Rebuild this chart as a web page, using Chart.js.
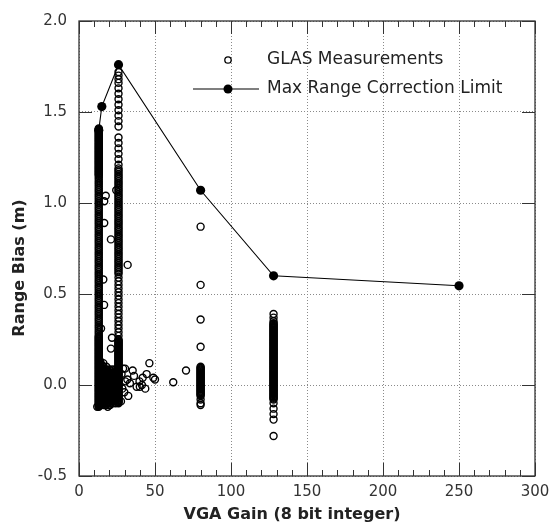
<!DOCTYPE html>
<html>
<head>
<meta charset="utf-8">
<title>GLAS range bias vs VGA gain</title>
<script src="https://cdn.jsdelivr.net/npm/chart.js@4.4.1/dist/chart.umd.min.js"></script>
<style>
  html, body { margin: 0; padding: 0; background: #fff; }
  #wrap { width: 557px; height: 529px; }
</style>
</head>
<body>
<div id="wrap"><canvas id="chart" width="557" height="529"></canvas></div>
<script>
/* ---- data ---- */

const xTicks = [0, 50, 100, 150, 200, 250, 300];
const yTicks = [-0.5, 0.0, 0.5, 1.0, 1.5, 2.0];

// max range correction limit (filled dots joined by a line)
const limitX = [13, 15, 26, 80, 128, 250];
const limitY = [1.40, 1.53, 1.76, 1.07, 0.60, 0.545];

// dense measurement column at gain 13
const colA_x = 13;
const colA_y = [1.41,1.40,1.39,1.38,1.37,1.36,1.35,1.34,1.33,1.32,1.31,1.30,1.29,1.28,1.27,1.26,1.25,1.24,1.23,1.22,1.21,1.20,1.19,1.18,1.17,1.16,1.15,
  1.405,1.395,1.385,1.375,1.365,1.355,1.345,1.335,1.325,1.315,1.305,1.295,1.285,1.275,1.265,1.255,1.245,1.235,1.225,1.215,1.205,1.195,1.185,1.175,1.165,1.155,
  1.13,1.11,1.09,1.07,1.05,1.03,1.01,0.99,0.97,0.95,0.93,0.91,0.89,0.87,0.85,0.83,0.81,0.79,0.77,0.75,0.73,0.71,0.69,0.67,0.65,0.63,0.61,0.59,0.57,0.55,0.53,0.51,0.49,0.47,0.45,0.43,0.41,0.39,0.37,0.35,0.33,0.31,0.29,
  1.14,1.12,1.10,1.08,1.06,1.04,1.02,1.00,0.98,0.96,0.94,0.92,0.90,0.88,0.86,0.84,0.82,0.80,0.78,0.76,0.74,0.72,0.70,0.68,0.66,0.64,0.62,0.60,0.58,0.56,0.54,0.52,0.50,0.48,0.46,0.44,0.42,0.40,0.38,0.36,0.34,0.32,0.30,0.28,
  0.27,0.26,0.25,0.24,0.23,0.22,0.21,0.20,0.19,0.18,0.17,0.16,0.15,0.14,0.13,0.12,0.11,0.10,0.09,0.08,0.07,0.06,0.05,0.04,0.03,0.02,0.01,0.00,-0.01,-0.02,-0.03,-0.04,-0.05,-0.06,-0.07,-0.08,-0.09,-0.10,-0.11,-0.12,
  0.265,0.255,0.245,0.235,0.225,0.215,0.205,0.195,0.185,0.175,0.165,0.155,0.145,0.135,0.125,0.115,0.105,0.095,0.085,0.075,0.065,0.055,0.045,0.035,0.025,0.015,0.005,-0.005,-0.015,-0.025,-0.035,-0.045,-0.055,-0.065,-0.075,-0.085,-0.095,-0.105,-0.115];

// dense measurement column at gain 26
const colB_x = 26;
const colB_y = [1.72,1.70,1.68,1.66,1.63,1.60,1.57,1.54,1.51,1.48,1.45,1.42,1.36,1.33,1.30,1.27,1.24,1.21,
  1.19,1.17,1.15,1.13,1.11,1.09,1.07,1.05,1.03,1.01,0.99,0.97,0.95,0.93,0.91,0.89,0.87,0.85,0.83,0.81,0.79,0.77,0.75,0.73,0.71,0.69,0.67,0.65,0.63,0.61,
  1.18,1.16,1.14,1.12,1.10,1.08,1.06,1.04,1.02,1.00,0.98,0.96,0.94,0.92,0.90,0.88,0.86,0.84,0.82,0.80,0.78,0.76,0.74,0.72,0.70,0.68,0.66,0.64,0.62,
  0.59,0.57,0.55,0.53,0.51,0.49,0.47,0.45,0.43,0.41,0.39,0.37,0.35,0.33,0.31,0.29,0.27,
  0.25,0.24,0.23,0.22,0.21,0.20,0.19,0.18,0.17,0.16,0.15,0.14,0.13,0.12,0.11,0.10,0.09,0.08,0.07,0.06,0.05,0.04,0.03,0.02,0.01,0.00,-0.01,-0.02,-0.03,-0.04,-0.05,-0.06,-0.07,-0.08,-0.09,-0.10,
  0.245,0.235,0.225,0.215,0.205,0.195,0.185,0.175,0.165,0.155,0.145,0.135,0.125,0.115,0.105,0.095,0.085,0.075,0.065,0.055,0.045,0.035,0.025,0.015,0.005,-0.005,-0.015,-0.025,-0.035,-0.045,-0.055,-0.065,-0.075,-0.085,-0.095];

// the block of measurements between gains 14 and 25, near zero bias
const clusterX = [14, 15, 16, 17, 18, 19, 20, 21, 22, 23, 24, 25];
const clusterY = [
  [-0.11,-0.095,-0.08,-0.065,-0.05,-0.035,-0.02,-0.005,0.01,0.025,0.04,0.055,0.07,0.085,0.10,0.115,0.13],
  [-0.10,-0.085,-0.07,-0.055,-0.04,-0.025,-0.01,0.005,0.02,0.035,0.05,0.065,0.08,0.095,0.11],
  [-0.11,-0.095,-0.08,-0.065,-0.05,-0.035,-0.02,-0.005,0.01,0.025,0.04,0.055,0.07,0.085,0.10,0.12],
  [-0.10,-0.085,-0.07,-0.055,-0.04,-0.025,-0.01,0.005,0.02,0.035,0.05,0.065,0.08],
  [-0.11,-0.095,-0.08,-0.065,-0.05,-0.035,-0.02,-0.005,0.01,0.025,0.04,0.055,0.07,0.085,0.10],
  [-0.10,-0.085,-0.07,-0.055,-0.04,-0.025,-0.01,0.005,0.02,0.035,0.05,0.065,0.08],
  [-0.11,-0.095,-0.08,-0.065,-0.05,-0.035,-0.02,-0.005,0.01,0.025,0.04,0.055,0.07,0.085],
  [-0.10,-0.085,-0.07,-0.055,-0.04,-0.025,-0.01,0.005,0.02,0.035,0.05,0.065,0.08],
  [-0.10,-0.085,-0.07,-0.055,-0.04,-0.025,-0.01,0.005,0.02,0.035,0.05,0.065,0.085],
  [-0.09,-0.075,-0.06,-0.045,-0.03,-0.015,0.00,0.015,0.03,0.045,0.065],
  [-0.10,-0.085,-0.07,-0.055,-0.04,-0.025,-0.01,0.005,0.02,0.035,0.05,0.065,0.085],
  [-0.09,-0.075,-0.06,-0.045,-0.03,-0.015,0.00,0.015,0.03,0.045,0.06,0.08]
];

// columns at gains 80 and 128
const col80_x = 80;
const col80_y = [0.87,0.55,0.36,0.21,0.10,0.09,0.08,0.07,0.06,0.05,0.04,0.03,0.02,0.01,0.00,-0.01,-0.02,-0.03,-0.04,-0.05,-0.06,-0.08,-0.10,-0.11,
  0.095,0.085,0.075,0.065,0.055,0.045,0.035,0.025,0.015,0.005,-0.005,-0.015,-0.025,-0.035,-0.045,-0.055];
const col128_x = 128;
const col128_y = [0.39,0.37,0.35,0.34,0.33,0.32,0.31,0.30,0.29,0.28,0.27,0.26,0.25,0.24,0.23,0.22,0.21,0.20,0.19,0.18,0.17,0.16,0.15,0.14,0.13,0.12,0.11,0.10,0.09,0.08,0.07,0.06,0.05,0.04,0.03,0.02,0.01,0.00,
  -0.01,-0.02,-0.03,-0.04,-0.05,-0.06,-0.07,-0.08,-0.10,-0.13,-0.16,-0.19,-0.28,
  0.335,0.325,0.315,0.305,0.295,0.285,0.275,0.265,0.255,0.245,0.235,0.225,0.215,0.205,0.195,0.185,0.175,0.165,0.155,0.145,0.135,0.125,0.115,0.105,0.095,0.085,0.075,0.065,0.055,0.045,0.035,0.025,0.015,0.005,
  -0.005,-0.015,-0.025,-0.035,-0.045,-0.055,-0.065,-0.075];

// loose measurements
const strayX = [16.5,16,14.5,21.7,21,32,17.6,16.6,16.6,21,24.5,12,18.9,20.4,
  27.6,28,28.5,29,29.8,30.3,30.5,31.8,32.4,33.5,35.3,36.2,37.9,39.8,40,41.4,41.9,43.6,44.5,46.3,48.9,50,62,70.4];
const strayY = [0.44,0.58,0.31,0.26,0.20,0.66,1.04,1.01,0.89,0.80,1.07,-0.12,-0.12,-0.11,
  -0.09,0.06,-0.02,0.09,-0.04,0.09,0.02,0.03,-0.06,0.01,0.08,0.05,-0.01,0.02,-0.01,0.00,0.04,-0.02,0.06,0.12,0.04,0.03,0.015,0.08];

/* ---- build point lists ---- */
const glasPoints = [];
colA_y.forEach(y => glasPoints.push({ x: colA_x, y }));
colB_y.forEach(y => glasPoints.push({ x: colB_x, y }));
clusterX.forEach((x, i) => clusterY[i].forEach(y => glasPoints.push({ x, y })));
col80_y.forEach(y => glasPoints.push({ x: col80_x, y }));
col128_y.forEach(y => glasPoints.push({ x: col128_x, y }));
strayX.forEach((x, i) => glasPoints.push({ x, y: strayY[i] }));
const limitPoints = limitX.map((x, i) => ({ x, y: limitY[i] }));

const FONT = "'DejaVu Sans', sans-serif";
const INK = "#222";
const AXIS = "#333";

// frame with inward ticks on all four sides
const framePlugin = {
  id: "frame",
  afterDatasetsDraw(chart) {
    const { ctx, chartArea: a, scales: { x, y } } = chart;
    ctx.save();
    ctx.strokeStyle = AXIS;
    ctx.lineWidth = 1.3;
    ctx.strokeRect(a.left, a.top, a.right - a.left, a.bottom - a.top);
    ctx.lineWidth = 1;
    ctx.beginPath();
    for (let v = 0; v <= 300; v += 10) {
      const px = Math.round(x.getPixelForValue(v)) + 0.5;
      const len = v % 50 === 0 ? 13 : 6;
      ctx.moveTo(px, a.bottom); ctx.lineTo(px, a.bottom - len);
      ctx.moveTo(px, a.top); ctx.lineTo(px, a.top + len);
    }
    yTicks.forEach(v => {
      const py = Math.round(y.getPixelForValue(v)) + 0.5;
      ctx.moveTo(a.left, py); ctx.lineTo(a.left + 13, py);
      ctx.moveTo(a.right, py); ctx.lineTo(a.right - 13, py);
    });
    ctx.stroke();
    ctx.restore();
  },
  afterDraw(chart) {
    const { ctx, chartArea: a } = chart;
    ctx.save();
    ctx.fillStyle = INK;
    // axis titles
    ctx.font = "bold 16px " + FONT;
    ctx.textAlign = "center";
    ctx.textBaseline = "middle";
    ctx.fillText("VGA Gain (8 bit integer)", 292, 515);
    ctx.translate(20, 268);
    ctx.rotate(-Math.PI / 2);
    ctx.fillText("Range Bias (m)", 0, 0);
    ctx.restore();

    // legend
    const ds = chart.data.datasets;
    const lx = a.left + 149, tx = a.left + 188;
    const r1 = a.top + 39, r2 = a.top + 68;
    ctx.save();
    ctx.font = "17px " + FONT;
    ctx.fillStyle = INK;
    ctx.textBaseline = "middle";
    ctx.strokeStyle = "#000";
    ctx.lineWidth = 1.3;
    ctx.beginPath(); ctx.arc(lx, r1, 3.2, 0, Math.PI * 2); ctx.stroke();
    ctx.fillText(ds[1].label, tx, r1);
    ctx.lineWidth = 1.1;
    ctx.beginPath(); ctx.moveTo(a.left + 114, r2); ctx.lineTo(a.left + 180, r2); ctx.stroke();
    ctx.fillStyle = "#000";
    ctx.beginPath(); ctx.arc(lx, r2, 4.5, 0, Math.PI * 2); ctx.fill();
    ctx.fillStyle = INK;
    ctx.fillText(ds[0].label, tx, r2);
    ctx.restore();
  }
};

new Chart(document.getElementById("chart"), {
  type: "scatter",
  data: {
    datasets: [
      { label: "Max Range Correction Limit", data: limitPoints, showLine: true,
        borderColor: "#000", borderWidth: 1.1, pointRadius: 4.6,
        pointBackgroundColor: "#000", pointBorderColor: "#000", pointBorderWidth: 0, order: 0 },
      { label: "GLAS Measurements", data: glasPoints,
        pointRadius: 3.5, pointBorderWidth: 1.4, pointBorderColor: "#000",
        pointBackgroundColor: "rgba(0,0,0,0)", order: 1 }
    ]
  },
  options: {
    responsive: false,
    devicePixelRatio: 1,
    animation: false,
    layout: { padding: { top: 19, right: 22, left: 0, bottom: 0 } },
    plugins: { legend: { display: false }, tooltip: { enabled: false } },
    scales: {
      x: {
        type: "linear", min: 0, max: 300,
        afterBuildTicks: s => { s.ticks = xTicks.map(v => ({ value: v })); },
        afterFit: s => { s.height = 53; },
        grid: { color: "#8a8a8a", lineWidth: 1, drawTicks: false },
        border: { display: false, dash: [1, 2] },
        ticks: { color: AXIS, padding: 7, font: { family: FONT, size: 15 }, callback: v => String(v) }
      },
      y: {
        type: "linear", min: -0.5, max: 2.0,
        afterBuildTicks: s => { s.ticks = yTicks.map(v => ({ value: v })); },
        afterFit: s => { s.width = 79; },
        grid: { color: "#8a8a8a", lineWidth: 1, drawTicks: false },
        border: { display: false, dash: [1, 2] },
        ticks: { color: AXIS, padding: 12, font: { family: FONT, size: 15 }, callback: v => v.toFixed(1) }
      }
    }
  },
  plugins: [framePlugin]
});
</script>
</body>
</html>
